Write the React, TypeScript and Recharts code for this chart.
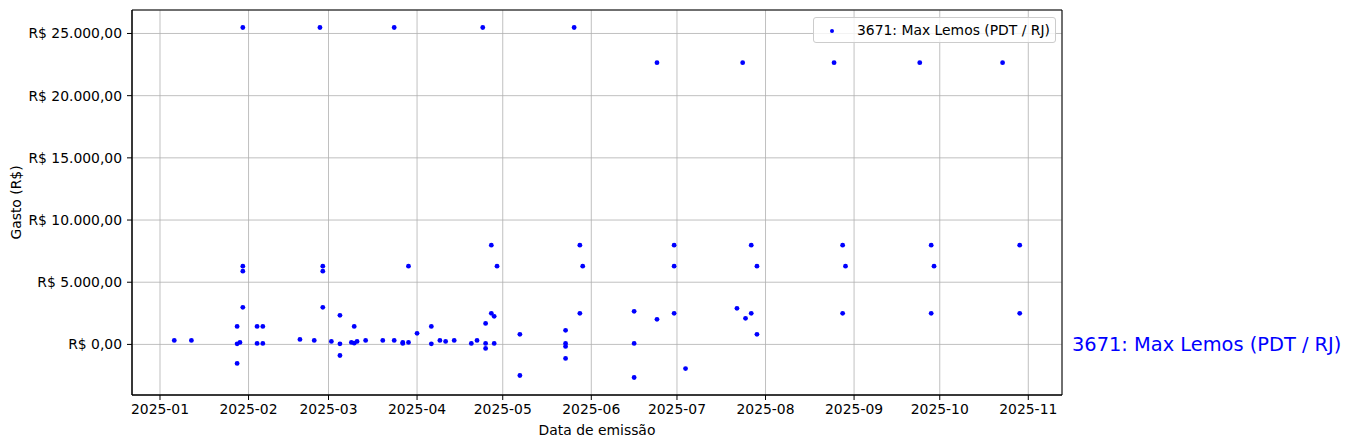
import React from 'react'
import { ScatterChart, Scatter, XAxis, YAxis, CartesianGrid, ReferenceArea, ReferenceDot } from 'recharts'

// emission dates and amounts (parallel lists)
const emissionDates = [
  '2025-01-06', '2025-01-12', '2025-01-28', '2025-01-28', '2025-01-29', '2025-01-28',
  '2025-01-30', '2025-01-30', '2025-01-30', '2025-01-30',
  '2025-02-04', '2025-02-04', '2025-02-06', '2025-02-06', '2025-02-19', '2025-02-24',
  '2025-02-26', '2025-02-27', '2025-02-27', '2025-02-27',
  '2025-03-02', '2025-03-05', '2025-03-05', '2025-03-05', '2025-03-09', '2025-03-10',
  '2025-03-10', '2025-03-11', '2025-03-14', '2025-03-20', '2025-03-24', '2025-03-24',
  '2025-03-27', '2025-03-27', '2025-03-29', '2025-03-29',
  '2025-04-01', '2025-04-06', '2025-04-06', '2025-04-09', '2025-04-11', '2025-04-14',
  '2025-04-20', '2025-04-22', '2025-04-24', '2025-04-25', '2025-04-25', '2025-04-25',
  '2025-04-27', '2025-04-27', '2025-04-28', '2025-04-28', '2025-04-29',
  '2025-05-07', '2025-05-07', '2025-05-23', '2025-05-23', '2025-05-23', '2025-05-23',
  '2025-05-26', '2025-05-28', '2025-05-28', '2025-05-29',
  '2025-06-16', '2025-06-16', '2025-06-16', '2025-06-24', '2025-06-24',
  '2025-06-30', '2025-06-30', '2025-06-30',
  '2025-07-04', '2025-07-22', '2025-07-24', '2025-07-25', '2025-07-27', '2025-07-27',
  '2025-07-29', '2025-07-29',
  '2025-08-25', '2025-08-28', '2025-08-28', '2025-08-29',
  '2025-09-24', '2025-09-28', '2025-09-28', '2025-09-29',
  '2025-10-23', '2025-10-29', '2025-10-29',
]

const spendValues = [
  320, 320, 1450, 50, 160, -1530,
  25480, 6290, 5890, 2980,
  1450, 80, 1450, 80, 400, 320,
  25480, 6290, 5890, 2980,
  240, 2340, 50, -890, 160, 1450,
  100, 240, 320, 320, 25480, 320,
  80, 160, 160, 6290,
  890, 1450, 50, 320, 240, 320,
  80, 320, 25480, 1690, 80, -320,
  7980, 2500, 2260, 80, 6290,
  810, -2500, 1130, 80, -160, -1130,
  25480, 7980, 2500, 6290,
  2660, 80, -2660, 22650, 2020,
  7980, 6290, 2500,
  -1940, 2900, 22650, 2100, 7980, 2500,
  6290, 810,
  22650, 7980, 2500, 6290,
  22650, 7980, 2500, 6290,
  22650, 7980, 2500,
]

const monthTicks = [
  '2025-01-01', '2025-02-01', '2025-03-01', '2025-04-01', '2025-05-01', '2025-06-01',
  '2025-07-01', '2025-08-01', '2025-09-01', '2025-10-01', '2025-11-01',
]
const spendTicks = [0, 5000, 10000, 15000, 20000, 25000]
const seriesName = '3671: Max Lemos (PDT / RJ)'

const points = emissionDates.map((d, i) => ({ x: Date.parse(d), y: spendValues[i] }))

// matplotlib-like 5% padding
const pad = (lo: number, hi: number) => [lo - (hi - lo) * 0.05, hi + (hi - lo) * 0.05]
const xs = points.map(p => p.x)
const ys = points.map(p => p.y)
const xDomain = pad(Math.min(...xs), Math.max(...xs))
const yDomain = pad(Math.min(...ys), Math.max(...ys))

const fmtMoney = (v: number) =>
  'R$ ' + v.toLocaleString('pt-BR', { minimumFractionDigits: 2, maximumFractionDigits: 2 })

const fmtMonth = (t: number) => {
  const d = new Date(t)
  return `${d.getUTCFullYear()}-${String(d.getUTCMonth() + 1).padStart(2, '0')}`
}

const FONT = "'DejaVu Sans', sans-serif"

export default function App() {
  return (
    <div style={{ position: 'absolute', left: 0, top: 0, width: 1350, height: 448, background: '#fff', fontFamily: FONT }}>
      <ScatterChart width={1350} height={448} margin={{ top: 10, right: 288, bottom: 0, left: 0 }}>
        <CartesianGrid stroke="#b0b0b0" strokeWidth={0.8} />
        <XAxis
          type="number"
          dataKey="x"
          domain={xDomain}
          ticks={monthTicks.map(t => Date.parse(t))}
          tickFormatter={fmtMonth}
          allowDataOverflow
          height={53}
          tickSize={5}
          tickMargin={4}
          stroke="#000"
          tick={{ fill: '#000', fontSize: 13.9 }}
          label={({ viewBox }: any) => (
            <text x={viewBox.x + viewBox.width / 2} y={435} textAnchor="middle" fontSize={13.9} fill="#000">
              Data de emissão
            </text>
          )}
        />
        <YAxis
          type="number"
          dataKey="y"
          domain={yDomain}
          ticks={spendTicks}
          tickFormatter={fmtMoney}
          allowDataOverflow
          width={132}
          tickSize={5}
          tickMargin={5}
          stroke="#000"
          tick={{ fill: '#000', fontSize: 13.9 }}
          label={({ viewBox }: any) => {
            const cy = viewBox.y + viewBox.height / 2
            return (
              <text x={16} y={cy} transform={`rotate(-90, 16, ${cy})`} textAnchor="middle" dominantBaseline="central" fontSize={13.9} fill="#000">
                Gasto (R$)
              </text>
            )
          }}
        />
        <ReferenceArea x1={xDomain[0]} x2={xDomain[1]} y1={yDomain[0]} y2={yDomain[1]} fill="none" stroke="#000" strokeWidth={1} />
        <Scatter
          name={seriesName}
          data={points}
          isAnimationActive={false}
          shape={(p: any) => <circle cx={p.cx} cy={p.cy} r={2.4} fill="#0000ff" />}
        />
        <ReferenceDot
          x={xDomain[1]}
          y={0}
          ifOverflow="visible"
          shape={(p: any) => (
            <text x={p.cx + 10} y={p.cy} dominantBaseline="central" fontSize={19.4} fill="#0000ff">
              {seriesName}
            </text>
          )}
        />
      </ScatterChart>
      <div
        style={{
          position: 'absolute', left: 813, top: 17, width: 241, height: 24,
          border: '1px solid #cccccc', borderRadius: 3, background: 'rgba(255,255,255,0.8)',
          fontSize: 13.9, lineHeight: '24px', boxSizing: 'content-box',
        }}
      >
        <span style={{ position: 'absolute', left: 16, top: 11, width: 4, height: 4, borderRadius: 2, background: '#0000ff' }} />
        <span style={{ position: 'absolute', left: 43, top: 0, whiteSpace: 'nowrap' }}>{seriesName}</span>
      </div>
    </div>
  )
}
